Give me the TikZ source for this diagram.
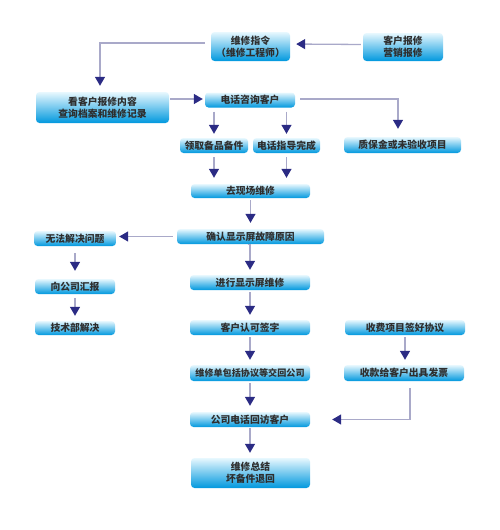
\documentclass[tikz,border=0pt]{standalone}
\usepackage{fontspec}
\setmainfont{Noto Sans CJK SC}
\usetikzlibrary{arrows.meta}
\definecolor{boxtop}{HTML}{E8F8FE}
\definecolor{boxmid}{HTML}{7FD3F5}
\definecolor{boxbot}{HTML}{0098DE}
\definecolor{linec}{HTML}{A9A9C9}
\definecolor{tipc}{HTML}{2B2B84}
\definecolor{txtc}{HTML}{2E2E2E}
\tikzset{
  bx/.style={rounded corners=3.5pt, top color=boxtop, middle color=boxmid, bottom color=boxbot,
    inner sep=0pt, align=center, text=txtc, font=\fontsize{9.8}{12}\selectfont\bfseries},
  ar/.style={draw=linec, line width=1.3pt, shorten <=3pt, shorten >=5pt,
    -{Triangle[width=10pt,length=9pt,color=tipc]}},
}
\begin{document}
\begin{tikzpicture}[x=1pt,y=-1pt]
\useasboundingbox (0,0) rectangle (500,530);
% boxes
\node[bx, minimum width=79pt, minimum height=29pt] (zl) at (250.5,46.5) {维修指令\\（维修工程师）};
\node[bx, minimum width=80pt, minimum height=28pt] (kh) at (403,47) {客户报修\\营销报修};
\node[bx, minimum width=133pt, minimum height=31pt] (ck) at (102.5,107.5) {看客户报修内容\\查询档案和维修记录};
\node[bx, minimum width=90pt, minimum height=15pt] (dh) at (250,100) {电话咨询客户};
\node[bx, minimum width=68pt, minimum height=15pt] (lq) at (214,145.5) {领取备品备件};
\node[bx, minimum width=67pt, minimum height=15pt] (dz) at (286.5,145.5) {电话指导完成};
\node[bx, minimum width=117pt, minimum height=16pt] (zb) at (402.5,145) {质保金或未验收项目};
\node[bx, minimum width=119pt, minimum height=14pt] (qx) at (250.5,191) {去现场维修};
\node[bx, minimum width=147pt, minimum height=15pt] (qr) at (250.5,236.5) {确认显示屏故障原因};
\node[bx, minimum width=82pt, minimum height=15pt] (wf) at (75,238.5) {无法解决问题};
\node[bx, minimum width=80pt, minimum height=15pt] (xg) at (75,286.5) {向公司汇报};
\node[bx, minimum width=80pt, minimum height=14pt] (js) at (75,328) {技术部解决};
\node[bx, minimum width=120pt, minimum height=15pt] (jx) at (250,282.5) {进行显示屏维修};
\node[bx, minimum width=120pt, minimum height=15pt] (kr) at (250,327.5) {客户认可签字};
\node[bx, minimum width=120pt, minimum height=15pt] (sf) at (405,327.5) {收费项目签好协议};
\node[bx, minimum width=120pt, minimum height=16pt, font=\fontsize{9.1}{12}\selectfont\bfseries] (wx) at (250,373) {维修单包括协议等交回公司};
\node[bx, minimum width=120pt, minimum height=16pt] (sk) at (404,373) {收款给客户出具发票};
\node[bx, minimum width=120pt, minimum height=15pt] (gs) at (250,419.5) {公司电话回访客户};
\node[bx, minimum width=119pt, minimum height=30pt] (zj) at (250.5,473) {维修总结\\坏备件退回};
% connectors
\draw[ar, shorten <=2pt, shorten >=6pt] ([yshift=2.5pt]kh.west) -- ([yshift=2.5pt]zl.east);
\draw[ar, shorten <=6pt, shorten >=6pt] ([yshift=3.5pt]zl.west) -| ([xshift=-2.5pt]ck.north);
\draw[ar, shorten <=1pt, shorten >=2pt] ([yshift=8.5pt]ck.east) -- ([yshift=1pt]dh.west);
\draw[ar, shorten <=4pt, shorten >=4pt] (lq.north |- dh.south) -- (lq.north);
\draw[ar, shorten <=4pt, shorten >=4pt] (dz.north |- dh.south) -- (dz.north);
\draw[ar, shorten <=5pt, shorten >=8pt] ([yshift=1pt]dh.east) -| ([xshift=-4.5pt]zb.north);
\draw[ar, shorten <=4pt, shorten >=6pt] (lq.south) -- (lq.south |- qx.north);
\draw[ar, shorten <=4pt, shorten >=6pt] (dz.south) -- (dz.south |- qx.north);
\draw[ar, shorten <=2pt, shorten >=6pt] (qx.south) -- (qx.south |- qr.north);
\draw[ar, shorten <=4pt, shorten >=3pt] (qr.west) -- (qr.west -| wf.east);
\draw[ar, shorten <=3pt, shorten >=5pt] (qr.south) -- (qr.south -| jx.north) -- (jx.north);
\draw[ar, shorten <=7pt, shorten >=8pt] (wf.south) -- (xg.north);
\draw[ar, shorten <=4pt, shorten >=5pt] (xg.south) -- (js.north);
\draw[ar, shorten <=2pt, shorten >=5pt] (jx.south) -- (kr.north);
\draw[ar, shorten <=2pt, shorten >=5pt] (kr.south) -- (wx.north);
\draw[ar, shorten <=2pt, shorten >=5pt] (sf.south) -- (sf.south |- sk.north);
\draw[ar, shorten <=2pt, shorten >=6pt] (wx.south) -- (gs.north);
\draw[ar, shorten <=7pt, shorten >=22pt] ([xshift=6pt]sk.south) |- (gs.east);
\draw[ar, shorten <=1pt, shorten >=5pt] (gs.south) -- (gs.south |- zj.north);
\end{tikzpicture}
\end{document}
